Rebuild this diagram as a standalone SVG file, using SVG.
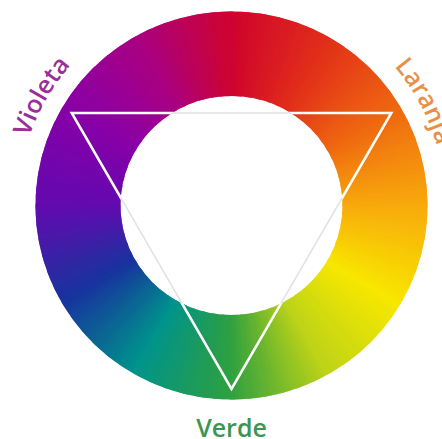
<svg xmlns="http://www.w3.org/2000/svg" xmlns:xlink="http://www.w3.org/1999/xlink" width="442" height="439" viewBox="0 0 442 439">
<style>
.lbl{font-family:"Open Sans","Liberation Sans",sans-serif;font-weight:600;font-size:25px}
</style>
<defs>
<path id="b" d="M231.5,205.5 L231.5,-9.5 L252.48,-8.47 Z"/>
<g id="ov">
<path fill-opacity="0.2" d="M231.5,205.5 L235.25,-9.47 L250.24,-8.68 Z"/>
<path fill-opacity="0.25" d="M231.5,205.5 L239,-9.37 L250.24,-8.68 Z"/>
<path fill-opacity="0.3333" d="M231.5,205.5 L242.75,-9.21 L250.24,-8.68 Z"/>
<path fill-opacity="0.5" d="M231.5,205.5 L246.5,-8.98 L250.24,-8.68 Z"/>
</g>
<clipPath id="ringClip"><path clip-rule="evenodd" d="M35.5,205.5 a196,194 0 1,0 392,0 a196,194 0 1,0 -392,0 Z M120.5,205.5 a111,109.5 0 1,0 222,0 a111,109.5 0 1,0 -222,0 Z"/></clipPath>
<path id="arcV" d="M18,205.5 A213.5,213.5 0 1,1 445,205.5 A213.5,213.5 0 1,1 18,205.5"/>
<path id="arcL" d="M17.5,205.5 A214,214 0 1,1 445.5,205.5 A214,214 0 1,1 17.5,205.5"/>
</defs>
<rect width="442" height="439" fill="#ffffff"/>
<g id="ring" clip-path="url(#ringClip)">
<g transform="rotate(0 231.5 205.5)"><use href="#b" fill="#d0042c"/><use href="#ov" fill="#d30b29"/></g>
<g transform="rotate(5 231.5 205.5)"><use href="#b" fill="#d30b29"/><use href="#ov" fill="#d61326"/></g>
<g transform="rotate(10 231.5 205.5)"><use href="#b" fill="#d61326"/><use href="#ov" fill="#d91a23"/></g>
<g transform="rotate(15 231.5 205.5)"><use href="#b" fill="#d91a23"/><use href="#ov" fill="#dc2120"/></g>
<g transform="rotate(20 231.5 205.5)"><use href="#b" fill="#dc2120"/><use href="#ov" fill="#df291d"/></g>
<g transform="rotate(25 231.5 205.5)"><use href="#b" fill="#df291d"/><use href="#ov" fill="#e2301a"/></g>
<g transform="rotate(30 231.5 205.5)"><use href="#b" fill="#e2301a"/><use href="#ov" fill="#e43a18"/></g>
<g transform="rotate(35 231.5 205.5)"><use href="#b" fill="#e43a18"/><use href="#ov" fill="#e74317"/></g>
<g transform="rotate(40 231.5 205.5)"><use href="#b" fill="#e74317"/><use href="#ov" fill="#e94d15"/></g>
<g transform="rotate(45 231.5 205.5)"><use href="#b" fill="#e94d15"/><use href="#ov" fill="#eb5713"/></g>
<g transform="rotate(50 231.5 205.5)"><use href="#b" fill="#eb5713"/><use href="#ov" fill="#ee6012"/></g>
<g transform="rotate(55 231.5 205.5)"><use href="#b" fill="#ee6012"/><use href="#ov" fill="#f06a10"/></g>
<g transform="rotate(60 231.5 205.5)"><use href="#b" fill="#f06a10"/><use href="#ov" fill="#f1750f"/></g>
<g transform="rotate(65 231.5 205.5)"><use href="#b" fill="#f1750f"/><use href="#ov" fill="#f3800f"/></g>
<g transform="rotate(70 231.5 205.5)"><use href="#b" fill="#f3800f"/><use href="#ov" fill="#f48b0e"/></g>
<g transform="rotate(75 231.5 205.5)"><use href="#b" fill="#f48b0e"/><use href="#ov" fill="#f5960d"/></g>
<g transform="rotate(80 231.5 205.5)"><use href="#b" fill="#f5960d"/><use href="#ov" fill="#f7a10d"/></g>
<g transform="rotate(85 231.5 205.5)"><use href="#b" fill="#f7a10d"/><use href="#ov" fill="#f8ac0c"/></g>
<g transform="rotate(90 231.5 205.5)"><use href="#b" fill="#f8ac0c"/><use href="#ov" fill="#f8b60a"/></g>
<g transform="rotate(95 231.5 205.5)"><use href="#b" fill="#f8b60a"/><use href="#ov" fill="#f8c008"/></g>
<g transform="rotate(100 231.5 205.5)"><use href="#b" fill="#f8c008"/><use href="#ov" fill="#f8ca06"/></g>
<g transform="rotate(105 231.5 205.5)"><use href="#b" fill="#f8ca06"/><use href="#ov" fill="#f8d404"/></g>
<g transform="rotate(110 231.5 205.5)"><use href="#b" fill="#f8d404"/><use href="#ov" fill="#f8de02"/></g>
<g transform="rotate(115 231.5 205.5)"><use href="#b" fill="#f8de02"/><use href="#ov" fill="#f8e800"/></g>
<g transform="rotate(120 231.5 205.5)"><use href="#b" fill="#f8e800"/><use href="#ov" fill="#eee504"/></g>
<g transform="rotate(125 231.5 205.5)"><use href="#b" fill="#eee504"/><use href="#ov" fill="#e5e108"/></g>
<g transform="rotate(130 231.5 205.5)"><use href="#b" fill="#e5e108"/><use href="#ov" fill="#dbde0c"/></g>
<g transform="rotate(135 231.5 205.5)"><use href="#b" fill="#dbde0c"/><use href="#ov" fill="#d1db10"/></g>
<g transform="rotate(140 231.5 205.5)"><use href="#b" fill="#d1db10"/><use href="#ov" fill="#c8d714"/></g>
<g transform="rotate(145 231.5 205.5)"><use href="#b" fill="#c8d714"/><use href="#ov" fill="#bed418"/></g>
<g transform="rotate(150 231.5 205.5)"><use href="#b" fill="#bed418"/><use href="#ov" fill="#a6cb1f"/></g>
<g transform="rotate(155 231.5 205.5)"><use href="#b" fill="#a6cb1f"/><use href="#ov" fill="#8ec325"/></g>
<g transform="rotate(160 231.5 205.5)"><use href="#b" fill="#8ec325"/><use href="#ov" fill="#76ba2c"/></g>
<g transform="rotate(165 231.5 205.5)"><use href="#b" fill="#76ba2c"/><use href="#ov" fill="#5eb133"/></g>
<g transform="rotate(170 231.5 205.5)"><use href="#b" fill="#5eb133"/><use href="#ov" fill="#46a939"/></g>
<g transform="rotate(175 231.5 205.5)"><use href="#b" fill="#46a939"/><use href="#ov" fill="#2ea040"/></g>
<g transform="rotate(180 231.5 205.5)"><use href="#b" fill="#2ea040"/><use href="#ov" fill="#269e4d"/></g>
<g transform="rotate(185 231.5 205.5)"><use href="#b" fill="#269e4d"/><use href="#ov" fill="#1f9c59"/></g>
<g transform="rotate(190 231.5 205.5)"><use href="#b" fill="#1f9c59"/><use href="#ov" fill="#179a66"/></g>
<g transform="rotate(195 231.5 205.5)"><use href="#b" fill="#179a66"/><use href="#ov" fill="#0f9873"/></g>
<g transform="rotate(200 231.5 205.5)"><use href="#b" fill="#0f9873"/><use href="#ov" fill="#08967f"/></g>
<g transform="rotate(205 231.5 205.5)"><use href="#b" fill="#08967f"/><use href="#ov" fill="#00948c"/></g>
<g transform="rotate(210 231.5 205.5)"><use href="#b" fill="#00948c"/><use href="#ov" fill="#04848f"/></g>
<g transform="rotate(215 231.5 205.5)"><use href="#b" fill="#04848f"/><use href="#ov" fill="#087492"/></g>
<g transform="rotate(220 231.5 205.5)"><use href="#b" fill="#087492"/><use href="#ov" fill="#0c6495"/></g>
<g transform="rotate(225 231.5 205.5)"><use href="#b" fill="#0c6495"/><use href="#ov" fill="#105498"/></g>
<g transform="rotate(230 231.5 205.5)"><use href="#b" fill="#105498"/><use href="#ov" fill="#14449b"/></g>
<g transform="rotate(235 231.5 205.5)"><use href="#b" fill="#14449b"/><use href="#ov" fill="#18349e"/></g>
<g transform="rotate(240 231.5 205.5)"><use href="#b" fill="#18349e"/><use href="#ov" fill="#252da1"/></g>
<g transform="rotate(245 231.5 205.5)"><use href="#b" fill="#252da1"/><use href="#ov" fill="#3126a4"/></g>
<g transform="rotate(250 231.5 205.5)"><use href="#b" fill="#3126a4"/><use href="#ov" fill="#3e1fa7"/></g>
<g transform="rotate(255 231.5 205.5)"><use href="#b" fill="#3e1fa7"/><use href="#ov" fill="#4b18aa"/></g>
<g transform="rotate(260 231.5 205.5)"><use href="#b" fill="#4b18aa"/><use href="#ov" fill="#5711ad"/></g>
<g transform="rotate(265 231.5 205.5)"><use href="#b" fill="#5711ad"/><use href="#ov" fill="#640ab0"/></g>
<g transform="rotate(270 231.5 205.5)"><use href="#b" fill="#640ab0"/><use href="#ov" fill="#6a08af"/></g>
<g transform="rotate(275 231.5 205.5)"><use href="#b" fill="#6a08af"/><use href="#ov" fill="#7007ad"/></g>
<g transform="rotate(280 231.5 205.5)"><use href="#b" fill="#7007ad"/><use href="#ov" fill="#7605ac"/></g>
<g transform="rotate(285 231.5 205.5)"><use href="#b" fill="#7605ac"/><use href="#ov" fill="#7c03ab"/></g>
<g transform="rotate(290 231.5 205.5)"><use href="#b" fill="#7c03ab"/><use href="#ov" fill="#8202a9"/></g>
<g transform="rotate(295 231.5 205.5)"><use href="#b" fill="#8202a9"/><use href="#ov" fill="#8800a8"/></g>
<g transform="rotate(300 231.5 205.5)"><use href="#b" fill="#8800a8"/><use href="#ov" fill="#8e00a2"/></g>
<g transform="rotate(305 231.5 205.5)"><use href="#b" fill="#8e00a2"/><use href="#ov" fill="#93009b"/></g>
<g transform="rotate(310 231.5 205.5)"><use href="#b" fill="#93009b"/><use href="#ov" fill="#990095"/></g>
<g transform="rotate(315 231.5 205.5)"><use href="#b" fill="#990095"/><use href="#ov" fill="#9f008f"/></g>
<g transform="rotate(320 231.5 205.5)"><use href="#b" fill="#9f008f"/><use href="#ov" fill="#a40088"/></g>
<g transform="rotate(325 231.5 205.5)"><use href="#b" fill="#a40088"/><use href="#ov" fill="#aa0082"/></g>
<g transform="rotate(330 231.5 205.5)"><use href="#b" fill="#aa0082"/><use href="#ov" fill="#b00174"/></g>
<g transform="rotate(335 231.5 205.5)"><use href="#b" fill="#b00174"/><use href="#ov" fill="#b70165"/></g>
<g transform="rotate(340 231.5 205.5)"><use href="#b" fill="#b70165"/><use href="#ov" fill="#bd0257"/></g>
<g transform="rotate(345 231.5 205.5)"><use href="#b" fill="#bd0257"/><use href="#ov" fill="#c30349"/></g>
<g transform="rotate(350 231.5 205.5)"><use href="#b" fill="#c30349"/><use href="#ov" fill="#ca033a"/></g>
<g transform="rotate(355 231.5 205.5)"><use href="#b" fill="#ca033a"/><use href="#ov" fill="#d0042c"/></g>
</g>
<g id="triangle" fill="none" stroke-linejoin="miter">
<polygon points="71.7,113 391.3,113 231.5,389" stroke="#e2e2e2" stroke-width="1.5"/>
<polygon points="71.7,113 391.3,113 231.5,389" stroke="#ffffff" stroke-width="2.5" clip-path="url(#ringClip)"/>
</g>
<g id="label-violeta"><text class="lbl" fill="#9a2f98" text-anchor="middle"><textPath href="#arcV" startOffset="111.4">Violeta</textPath></text></g>
<g id="label-laranja"><text class="lbl" fill="#e8904a" text-anchor="middle"><textPath href="#arcL" startOffset="566">Laranja</textPath></text></g>
<g id="label-verde"><text class="lbl" fill="#3d9650" x="231.5" y="437" text-anchor="middle">Verde</text></g>
</svg>
